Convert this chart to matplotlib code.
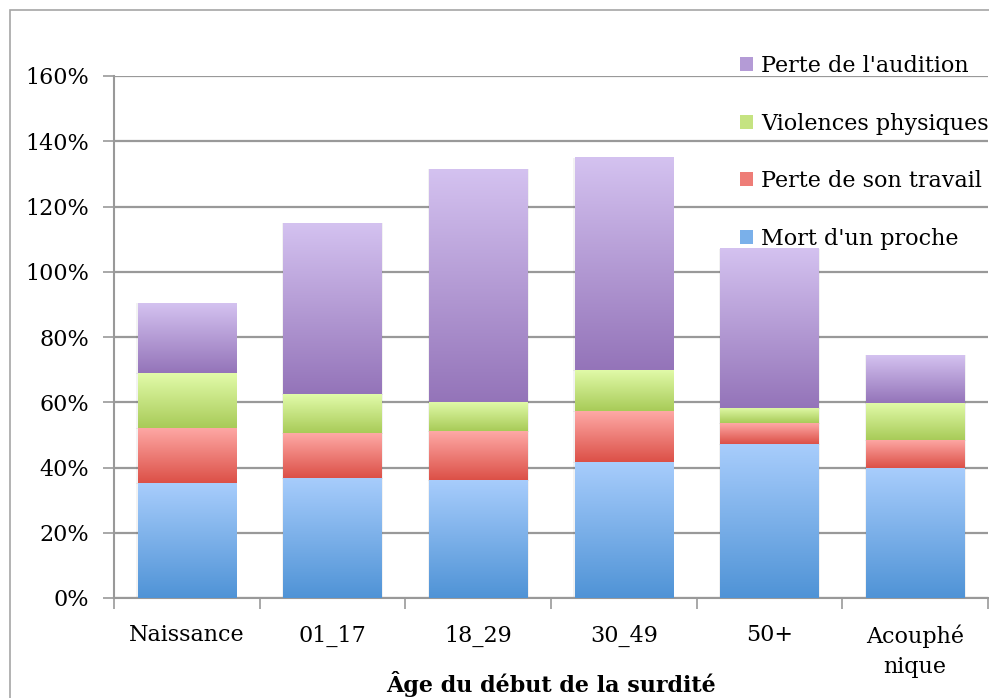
import numpy as np
import matplotlib
matplotlib.use("Agg")
import matplotlib.pyplot as plt
from matplotlib.colors import LinearSegmentedColormap
from matplotlib.patches import Patch, Rectangle
from matplotlib.ticker import FixedLocator, PercentFormatter

categories = ["Naissance", "01_17", "18_29", "30_49", "50+", "Acouphé\nnique"]
mort = [35.2, 36.9, 36.2, 41.7, 47.2, 39.8]
travail = [17.0, 13.7, 15.0, 15.6, 6.4, 8.6]
violences = [16.8, 11.9, 8.9, 12.6, 4.6, 11.4]
audition = [21.4, 52.4, 71.4, 65.0, 48.8, 14.7]
series_names = ["Mort d'un proche", "Perte de son travail", "Violences physiques", "Perte de l'audition"]
yticks = [0, 20, 40, 60, 80, 100, 120, 140, 160]

series = [mort, travail, violences, audition]
# (top colour, bottom colour)
grads = [("#a8cdfc", "#4f93d6"), ("#fea9a6", "#dc5047"),
         ("#e2fbaa", "#a8cb58"), ("#d4c2f0", "#9474b9")]
mids = ["#7ab0ea", "#ee7d77", "#c5e381", "#b49bd6"]

plt.rcParams['font.family'] = ['DejaVu Serif']
FS = 16

fig = plt.figure(figsize=(9.89, 6.98), dpi=100)
# outer chart frame
fig.add_artist(Rectangle((10/989, -0.1), 1.2, 1 - 10/698 + 0.1, transform=fig.transFigure,
                         fill=False, edgecolor="#a6a6a6", lw=1.2))
ax = fig.add_axes([114/989, 1 - 598/698, 874/989, 522/698])

x = np.arange(len(categories))
width = 0.673
bottom = np.zeros(len(categories))
grad = np.linspace(1, 0, 256).reshape(-1, 1)
for vals, (ctop, cbot) in zip(series, grads):
    cmap = LinearSegmentedColormap.from_list("g", [cbot, ctop])
    vals = np.array(vals)
    for xi, b, v in zip(x, bottom, vals):
        # soft shadow
        ax.add_patch(Rectangle((xi - width/2 - 0.01, b - 0.3), width + 0.02, v + 0.3,
                               facecolor="#000000", alpha=0.05, lw=0, zorder=2))
        ax.imshow(grad, extent=[xi - width/2, xi + width/2, b, b + v], cmap=cmap,
                  aspect='auto', interpolation='bilinear', zorder=3, vmin=0, vmax=1)
    bottom += vals

ax.set_xlim(-0.5, len(categories) - 0.5)
ax.set_ylim(0, 160)
ax.set_yticks(yticks)
ax.yaxis.set_major_formatter(PercentFormatter(decimals=0))
ax.yaxis.grid(True, color="#999999", lw=1.6, zorder=1)
ax.set_axisbelow(True)

ax.xaxis.set_major_locator(FixedLocator(np.arange(-0.5, len(categories), 1.0)))
ax.xaxis.set_minor_locator(FixedLocator(x))
ax.set_xticklabels([])
ax.set_xticklabels(categories, minor=True, fontsize=FS, linespacing=1.5)
ax.tick_params(axis='x', which='major', length=8, width=1.2, color="#999999", direction='out')
ax.tick_params(axis='x', which='minor', length=0, pad=19)
ax.tick_params(axis='y', length=8, width=1.2, color="#999999", pad=10, labelsize=FS)

for s in ["top", "right"]:
    ax.spines[s].set_visible(False)
for s in ["left", "bottom"]:
    ax.spines[s].set_color("#999999")
    ax.spines[s].set_linewidth(1.5)

fig.text((114 + 988) / 2 / 989, 1 - 684/698, "Âge du début de la surdité",
         fontsize=FS, fontweight='bold', ha='center', va='center')

handles = [Patch(facecolor=c, edgecolor='none') for c in mids][::-1]
fig.legend(handles, series_names[::-1], loc='upper left',
           bbox_to_anchor=(740/989, 1 - 55/698), frameon=False, fontsize=FS,
           handlelength=0.6, handleheight=0.6, handletextpad=0.35, labelspacing=1.6,
           borderaxespad=0, borderpad=0)

fig.savefig("out.png", dpi=100)
